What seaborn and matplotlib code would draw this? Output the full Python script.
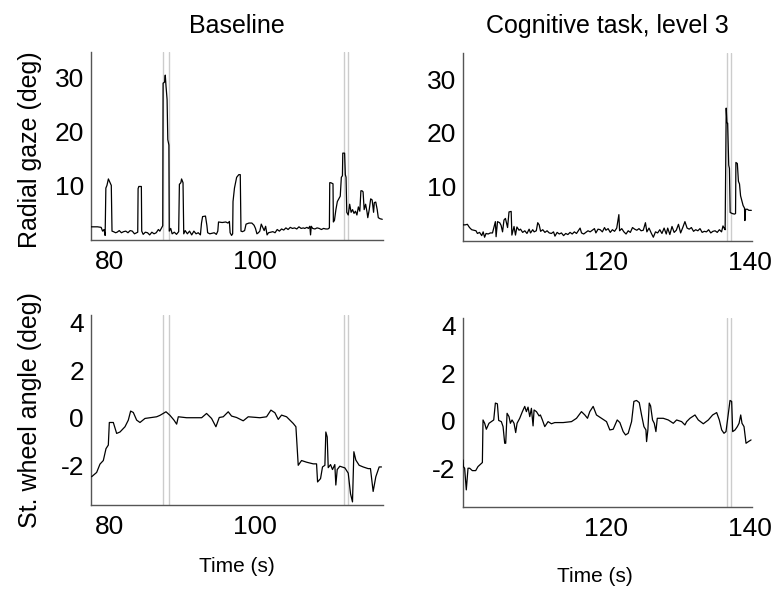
import matplotlib
matplotlib.use("Agg")
import matplotlib.pyplot as plt
import pandas as pd
import seaborn as sns

# ---------------- data ----------------
titles = ["Baseline", "Cognitive task, level 3"]
ylabels = ["Radial gaze (deg)", "St. wheel angle (deg)"]
xlabel = "Time (s)"

base_gaze_t = [77.4, 77.8, 78.3, 78.8, 79.0, 79.2, 79.35, 79.45, 79.6, 79.8, 80.0, 80.2, 80.3, 80.5, 80.8,
               81.0, 81.3, 81.6, 81.9, 82.2, 82.5, 82.8, 83.1, 83.4, 83.7, 83.85, 83.9, 84.0, 84.35, 84.4,
               84.6, 84.9, 85.2, 85.5, 85.8, 86.1, 86.4, 86.7, 86.9, 87.1, 87.3, 87.35, 87.55, 87.65, 87.75,
               87.9, 88.0, 88.15, 88.2, 88.4, 88.6, 88.9, 89.2, 89.5, 89.6, 89.8, 89.9, 90.1, 90.2, 90.4,
               90.7, 91.0, 91.3, 91.6, 91.9, 92.2, 92.5, 92.65, 92.8, 93.2, 93.4, 93.5, 93.8, 94.1, 94.4,
               94.7, 94.9, 95.0, 95.5, 96.0, 96.3, 96.5, 96.6, 96.8, 96.95, 97.0, 97.2, 97.5, 97.8, 98.0,
               98.1, 98.3, 98.6, 98.8, 99.2, 99.6, 99.9, 100.1, 100.3, 100.5, 100.7, 100.9, 101.1, 101.3,
               101.5, 101.7, 101.9, 102.2, 102.5, 102.8, 103.1, 103.4, 103.7, 104.0, 104.3, 104.6, 104.9,
               105.2, 105.5, 105.8, 106.1, 106.4, 106.7, 106.9, 107.2, 107.4, 107.6, 107.7, 107.8, 108.0,
               108.3, 108.6, 108.9, 109.2, 109.5, 109.8, 110.1, 110.3, 110.35, 110.5, 110.8, 110.85, 111.0,
               111.2, 111.4, 111.6, 111.8, 111.95, 112.1, 112.15, 112.4, 112.5, 112.6, 112.7, 112.9, 113.1,
               113.3, 113.5, 113.7, 113.9, 114.1, 114.3, 114.5, 114.65, 114.8, 114.95, 115.1, 115.3, 115.5,
               115.6, 115.8, 116.0, 116.2, 116.4, 116.5, 116.7, 116.9, 117.05, 117.3, 117.6]
base_gaze = [2.3, 2.3, 2.3, 2.2, 1.5, 1.8, 0.7, 9.5, 10.0, 11.2, 10.6, 10.0, 1.5, 1.4, 1.2,
             1.3, 1.6, 1.2, 1.4, 1.5, 1.2, 1.6, 1.5, 1.0, 1.2, 1.3, 9.4, 9.8, 9.8, 1.5,
             0.9, 1.3, 1.2, 0.8, 1.3, 1.0, 1.2, 1.8, 1.5, 2.0, 2.5, 29.0, 29.2, 30.5, 28.5,
             26.0, 18.5, 17.5, 1.5, 2.0, 1.0, 1.3, 0.9, 1.4, 10.2, 10.5, 11.2, 10.5, 1.0, 1.6,
             1.0, 1.5, 0.8, 1.5, 1.0, 1.2, 0.8, 3.0, 4.2, 4.3, 2.5, 1.2, 1.0, 1.1, 1.2,
             0.9, 1.5, 3.2, 3.1, 3.2, 3.0, 3.3, 1.2, 0.7, 1.0, 7.0, 9.5, 11.5, 12.0, 12.0,
             1.5, 1.4, 1.6, 2.8, 3.0, 3.0, 2.6, 2.0, 1.0, 1.2, 1.5, 2.8, 2.2, 1.6,
             2.4, 0.8, 1.2, 1.3, 1.4, 1.2, 1.8, 1.5, 1.9, 1.7, 2.1, 1.8, 2.2,
             2.0, 2.1, 1.9, 2.3, 2.0, 2.1, 2.0, 2.2, 2.0, 2.4, 0.8, 2.4, 2.0,
             1.9, 2.1, 2.0, 1.8, 2.0, 1.9, 1.9, 2.1, 10.5, 10.5, 10.3, 3.2, 3.5,
             5.5, 7.0, 7.5, 8.0, 11.5, 11.8, 16.0, 16.0, 12.0, 11.5, 5.0, 4.5, 6.5,
             5.0, 5.5, 4.8, 5.2, 4.5, 6.0, 5.2, 9.0, 9.0, 8.8, 5.5, 6.5, 5.0,
             4.0, 5.5, 7.5, 7.3, 5.0, 6.8, 6.9, 5.5, 4.0, 3.8, 3.7]

cog_gaze_t = [100.05, 100.4, 100.7, 101.0, 101.3, 101.6, 101.9, 102.1, 102.4, 102.7, 102.9, 103.1, 103.3,
              103.6, 103.9, 104.2, 104.6, 104.7, 104.9, 105.2, 105.4, 105.6, 105.8, 106.0, 106.3, 106.5,
              106.8, 106.9, 107.2, 107.4, 107.6, 107.9, 108.1, 108.4, 108.7, 109.0, 109.3, 109.5, 109.8,
              110.0, 110.3, 110.5, 110.7, 110.9, 111.2, 111.5, 111.8, 112.1, 112.4, 112.7, 112.9, 113.2,
              113.5, 113.8, 114.1, 114.4, 114.7, 115.0, 115.3, 115.6, 115.9, 116.2, 116.4, 116.6, 116.9,
              117.2, 117.5, 117.8, 118.1, 118.4, 118.6, 118.9, 119.2, 119.5, 119.8, 120.0, 120.3, 120.6,
              120.9, 121.2, 121.5, 121.8, 121.9, 122.2, 122.5, 122.8, 123.1, 123.4, 123.7, 124.0, 124.3,
              124.6, 124.9, 125.2, 125.5, 125.7, 126.0, 126.3, 126.6, 126.9, 127.2, 127.5, 127.8, 128.1,
              128.4, 128.6, 128.9, 129.2, 129.5, 129.8, 130.1, 130.4, 130.7, 131.0, 131.3, 131.6, 131.9,
              132.2, 132.5, 132.8, 133.1, 133.4, 133.7, 134.0, 134.3, 134.6, 134.9, 135.2, 135.5, 135.8,
              136.1, 136.3, 136.5, 136.6, 136.75, 136.85, 136.95, 137.1, 137.2, 137.3, 137.6, 137.9,
              138.05, 138.1, 138.3, 138.45, 138.6, 138.75, 138.9, 139.1, 139.3, 139.35, 139.45, 139.7,
              139.9, 140.25]
cog_gaze = [2.9, 2.9, 3.0, 2.4, 2.0, 1.9, 1.8, 1.3, 1.5, 0.9, 1.6, 0.6, 1.3,
            1.2, 1.4, 1.4, 3.5, 0.7, 3.5, 3.3, 2.8, 1.6, 3.8, 4.1, 2.4, 5.3,
            5.4, 1.0, 2.6, 1.0, 2.5, 1.9, 2.1, 1.5, 1.8, 1.3, 2.1, 1.4, 2.0,
            1.6, 1.8, 3.3, 2.9, 1.7, 2.0, 1.5, 1.8, 1.4, 1.3, 1.6, 0.8, 1.5,
            1.2, 1.4, 0.9, 1.3, 1.1, 1.5, 1.2, 1.6, 1.3, 1.9, 2.3, 1.4, 1.2,
            1.5, 1.8, 1.6, 1.9, 2.2, 1.4, 2.1, 2.0, 1.6, 2.4, 1.9, 2.2, 1.5,
            2.0, 1.7, 2.3, 4.8, 1.8, 2.2, 1.6, 1.2, 1.8, 1.5, 2.4, 2.1, 1.9,
            2.2, 1.8, 1.9, 3.3, 1.6, 2.3, 1.4, 0.6, 1.6, 1.4, 2.0, 1.3, 2.3,
            1.2, 2.3, 1.1, 2.6, 1.5, 1.9, 3.0, 1.4, 2.4, 3.5, 2.3, 2.1, 2.4,
            1.7, 2.0, 1.8, 2.2, 1.5, 1.7, 1.6, 2.0, 1.4, 1.7, 1.8, 1.5, 2.0,
            1.6, 2.7, 2.2, 2.0, 24.6, 21.9, 21.8, 14.0, 13.4, 5.2, 5.0, 4.9,
            5.0, 14.5, 14.3, 11.0, 10.5, 8.3, 7.5, 6.5, 6.0, 3.7, 5.8, 5.8,
            5.6, 5.6]

base_wheel_t = [77.49, 78.18, 78.64, 79.10, 79.47, 79.79, 79.93, 80.48, 80.94, 81.40, 82.09, 82.55, 82.87,
                83.24, 83.70, 84.16, 84.85, 86.46, 86.92, 87.75, 88.30, 88.85, 89.22, 89.45, 90.6, 92.67,
                93.35, 94.04, 94.64, 95.1, 95.65, 96.34, 96.8, 97.49, 98.41, 99.1, 100.71, 101.63, 102.23,
                102.78, 103.24, 103.7, 104.39, 105.31, 105.68, 106.0, 106.46, 107.15, 108.07, 108.53,
                108.67, 109.08, 109.35, 109.68, 109.81, 110.0, 110.14, 110.46, 110.73, 111.05, 111.19,
                111.38, 111.74, 112.44, 112.9, 113.22, 113.49, 113.68, 113.95, 114.41, 114.96, 115.65,
                115.97, 116.34, 116.71, 117.17, 117.49]
base_wheel = [-2.48, -2.3, -1.95, -1.8, -1.3, -1.15, -0.2, -0.2, -0.66, -0.6, -0.38, -0.1, 0.28,
              0.22, -0.1, -0.2, -0.03, 0.04, 0.1, 0.25, 0.1, -0.1, -0.27, 0.04, 0.0, 0.0,
              0.18, -0.03, -0.38, 0.01, 0.04, 0.25, 0.07, 0.01, -0.13, 0.04, 0.0, 0.04, 0.32,
              0.21, -0.07, 0.11, 0.04, -0.24, -0.38, -2.0, -1.8, -1.87, -1.94, -1.94,
              -2.7, -2.56, -2.07, -2.0, -0.6, -0.81, -2.1, -1.97, -2.18, -1.97, -2.83,
              -2.18, -2.04, -2.11, -2.33, -3.2, -3.54, -1.43, -1.78, -2.0, -2.07, -2.14,
              -2.14, -3.1, -2.48, -2.07, -2.07]

cog_wheel_t = [100.09, 100.14, 100.32, 100.55, 100.79, 101.02, 101.39, 101.86, 102.18, 102.79, 102.88,
               103.11, 103.34, 103.71, 104.04, 104.37, 104.6, 104.88, 105.06, 105.43, 105.67, 105.9,
               106.04, 106.23, 106.5, 106.69, 106.92, 107.2, 107.43, 107.62, 107.99, 108.36, 108.69,
               108.92, 109.15, 109.39, 109.62, 109.85, 109.99, 110.32, 110.69, 110.87, 111.15, 111.48,
               111.94, 112.41, 112.87, 114.04, 115.2, 115.9, 116.59, 117.06, 117.43, 117.75, 118.22,
               118.68, 119.38, 120.08, 120.54, 121.01, 121.57, 121.94, 122.4, 122.73, 123.1, 123.57,
               123.89, 124.26, 124.64, 124.96, 125.29, 125.57, 125.66, 125.84, 126.03, 126.22, 126.49,
               126.73, 126.96, 127.15, 127.98, 128.68, 129.38, 129.84, 130.54, 131.0, 131.24, 131.7,
               132.4, 132.86, 133.56, 134.26, 134.86, 135.42, 135.79, 136.12, 136.44, 136.72, 137.05,
               137.28, 137.51, 137.65, 137.98, 138.3, 138.54, 138.77, 138.95, 139.23, 139.51, 139.84,
               140.21]
cog_wheel = [-1.65, -1.93, -2.0, -2.91, -2.0, -2.0, -2.1, -2.1, -1.93, -1.76, 0.03,
             -0.11, -0.36, -0.11, -0.04, 0.03, 0.74, 0.71, 0.01, -0.04, -0.25, -0.95,
             -0.95, 0.31, 0.17, -0.11, 0.03, -0.11, -0.5, -0.11, 0.1, 0.38, 0.6,
             0.38, 0.57, 0.17, 0.52, -0.22, 0.45, 0.38, 0.2, 0.24, 0.03, -0.25,
             -0.04, -0.13, -0.08, -0.08, -0.04, 0.1, 0.38, 0.24, 0.1, 0.38, 0.6,
             0.24, 0.1, -0.04, -0.39, -0.36, 0.03, -0.08, -0.46, -0.6, -0.53, -0.04,
             0.81, 0.85, 0.76, 0.24, -0.25, -0.39, -0.88, -0.39, 0.74, 0.62, 0.03,
             -0.11, -0.46, 0.1, 0.1, 0.03, -0.11, 0.03, -0.04, -0.18, -0.04, 0.1,
             0.24, 0.03, -0.13, 0.03, 0.24, 0.34, 0.03, -0.39, -0.53, -0.46, 0.31,
             0.85, 0.81, -0.46, -0.39, -0.25, -0.11, 0.24, -0.11, -0.25, -0.95, -0.88,
             -0.81]

base_events = [87.38, 88.11, 112.34, 112.89]
cog_events = [136.86, 137.42]

# ---------------- style ----------------
sns.set_style("white")
plt.rcParams['font.family'] = ['Liberation Sans', 'DejaVu Sans']
plt.rcParams['text.color'] = 'black'
plt.rcParams['axes.labelcolor'] = 'black'
plt.rcParams['axes.titlecolor'] = 'black'

W, H = 775, 592
fig = plt.figure(figsize=(W / 100, H / 100), dpi=100)


def box(l, t, r, b):
    return [l / W, 1 - b / H, (r - l) / W, (b - t) / H]


ax_tl = fig.add_axes(box(91, 52, 383, 240))
ax_tr = fig.add_axes(box(462.7, 52.7, 751.7, 241))
ax_bl = fig.add_axes(box(91, 315, 383, 505))
ax_br = fig.add_axes(box(462.7, 317.7, 751.7, 507))

SPINE = '#555555'


def panel(ax, t, v, events, xlim, ylim, xticks, yticks):
    for e in events:
        ax.axvline(e, color='#cccccc', lw=1.0, zorder=1)
    df = pd.DataFrame({'t': t, 'v': v})
    sns.lineplot(data=df, x='t', y='v', ax=ax, color='black', lw=0.9,
                 estimator=None, sort=False, zorder=3)
    ax.set_xlim(*xlim)
    ax.set_ylim(*ylim)
    ax.set_xticks(xticks)
    ax.set_yticks(yticks)
    ax.set_xticklabels([str(x) for x in xticks])
    ax.set_yticklabels([str(y) for y in yticks])
    ax.set_xlabel('')
    ax.set_ylabel('')
    for s in ['top', 'right']:
        ax.spines[s].set_visible(False)
    for s in ['left', 'bottom']:
        ax.spines[s].set_color(SPINE)
        ax.spines[s].set_linewidth(1.0)
    ax.tick_params(direction='in', length=3, width=1, color=SPINE,
                   labelcolor='black', labelsize=19)
    ax.tick_params(axis='x', pad=7)
    ax.tick_params(axis='y', pad=5)
    ax.set_facecolor('white')


panel(ax_tl, base_gaze_t, base_gaze, base_events, (77.4, 117.7), (-0.15, 34.8), [80, 100], [10, 20, 30])
panel(ax_tr, cog_gaze_t, cog_gaze, cog_events, (100.05, 140.3), (-0.1, 34.9), [120, 140], [10, 20, 30])
panel(ax_bl, base_wheel_t, base_wheel, base_events, (77.4, 117.7), (-3.67, 4.32), [80, 100], [-2, 0, 2, 4])
panel(ax_br, cog_wheel_t, cog_wheel, cog_events, (100.05, 140.3), (-3.63, 4.33), [120, 140], [-2, 0, 2, 4])

ax_tl.set_title(titles[0], fontsize=18, pad=14, color='black')
ax_tr.set_title(titles[1], fontsize=18, pad=14, color='black')

fig.text(30 / W, 1 - 150 / H, ylabels[0], rotation=90, ha='center', va='center', fontsize=18, color='black')
fig.text(30 / W, 1 - 410 / H, ylabels[1], rotation=90, ha='center', va='center', fontsize=18, color='black')
fig.text(237 / W, 1 - 566 / H, xlabel, ha='center', va='center', fontsize=15, color='black')
fig.text(595 / W, 1 - 577 / H, xlabel, ha='center', va='center', fontsize=15, color='black')

fig.savefig('out.png', dpi=100, facecolor='white')
